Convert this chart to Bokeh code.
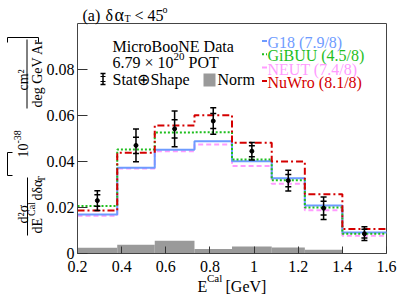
from math import pi
from bokeh.plotting import figure
from bokeh.models import Label, Arrow, FixedTicker, CustomJSTickFormatter, Range1d
from bokeh.embed import file_html
from bokeh.resources import INLINE

# ---------------- data ----------------
edges = [0.2, 0.38, 0.55, 0.73, 0.9, 1.08, 1.23, 1.4, 1.6]
data = [0.0230, 0.0470, 0.0542, 0.0576, 0.0445, 0.0317, 0.0197, 0.0086]
tot_err = [0.0043, 0.0071, 0.0078, 0.0058, 0.0038, 0.0045, 0.0049, 0.0030]
stat_err = [0.0025, 0.0035, 0.0040, 0.0033, 0.0024, 0.0027, 0.0030, 0.0019]
g18 = [0.0170, 0.0373, 0.0451, 0.0488, 0.0401, 0.0327, 0.0209, 0.0091]
gibuu = [0.0206, 0.0452, 0.0526, 0.0527, 0.0409, 0.0319, 0.0200, 0.0086]
neut = [0.0164, 0.0370, 0.0445, 0.0474, 0.0380, 0.0303, 0.0188, 0.0077]
nuwro = [0.0187, 0.0438, 0.0557, 0.0601, 0.0481, 0.0400, 0.0258, 0.0106]
norm = [0.0025, 0.0038, 0.0055, 0.0020, 0.0030, 0.0026, 0.0016, 0.0]
model_names = ["G18 (7.9/8)", "GiBUU (4.5/8)", "NEUT (7.4/8)", "NuWro (8.1/8)"]
x_ticks = [0.2, 0.4, 0.6, 0.8, 1.0, 1.2, 1.4, 1.6]
y_ticks = [0.0, 0.02, 0.04, 0.06, 0.08]
X_MIN, X_MAX, Y_MIN, Y_MAX = 0.2, 1.6, 0.0, 0.1

FONT = "Liberation Serif"
C_G18, C_GIBUU, C_NEUT, C_NUWRO = "#6E9BFF", "#1EBE1E", "#FF9BFF", "#D40000"
AX = "#444444"

W, H = 407, 295
# plot box in canvas pixels: x 77..386, y 23..253
BL, BR, BT, BB = 77.0, 386.0, 23.0, 253.0

def dx(px):
    return X_MIN + (px - BL) * (X_MAX - X_MIN) / (BR - BL)

def dy(py):
    return Y_MIN + (BB - py) * (Y_MAX - Y_MIN) / (BB - BT)

p = figure(width=W, height=H, output_backend="svg", toolbar_location=None,
           x_range=Range1d(dx(0), dx(W)), y_range=Range1d(dy(H), dy(0)),
           min_border=0, background_fill_color="white", border_fill_color="white")
p.grid.visible = False
p.outline_line_color = None

# axes at the plot box edges
xa, ya = p.xaxis[0], p.yaxis[0]
xa.fixed_location = Y_MIN
ya.fixed_location = X_MIN
xa.bounds = (X_MIN, X_MAX)
ya.bounds = (Y_MIN, Y_MAX)
for ax in (xa, ya):
    ax.axis_line_color = AX
    ax.major_tick_line_color = "#333333"
    ax.minor_tick_line_color = None
    ax.major_tick_out = 0
    ax.major_label_text_font = FONT
    ax.major_label_text_font_size = "16px"
    ax.major_label_text_color = "black"
xa.major_tick_in = 7
ya.major_tick_in = 10
xa.major_label_standoff = 7
ya.major_label_standoff = 3
xa.ticker = FixedTicker(ticks=x_ticks)
ya.ticker = FixedTicker(ticks=y_ticks)
xa.formatter = CustomJSTickFormatter(code="return String(Math.round(tick*10)/10);")
ya.formatter = CustomJSTickFormatter(code="return tick < 1e-9 ? '0' : tick.toFixed(2);")

# top and right frame lines
p.line([X_MIN, X_MAX, X_MAX], [Y_MAX, Y_MAX, Y_MIN], line_color=AX, line_width=1)

# Norm histogram
p.quad(left=edges[:-1], right=edges[1:], bottom=0, top=norm,
       fill_color="#9a9a9a", line_color=None)

# model step histograms
def stepy(v):
    return list(v) + [v[-1]]

p.step(edges, stepy(neut), mode="after", line_color=C_NEUT, line_width=2, line_dash="5 3")
p.step(edges, stepy(g18), mode="after", line_color=C_G18, line_width=2)
p.step(edges, stepy(gibuu), mode="after", line_color=C_GIBUU, line_width=2, line_dash="2 2")
p.step(edges, stepy(nuwro), mode="after", line_color=C_NUWRO, line_width=2, line_dash="7 3 2 3")

# data points
centers = [(a + b) / 2 for a, b in zip(edges[:-1], edges[1:])]
lo = [d - e for d, e in zip(data, tot_err)]
hi = [d + e for d, e in zip(data, tot_err)]
slo = [d - e for d, e in zip(data, stat_err)]
shi = [d + e for d, e in zip(data, stat_err)]
p.segment(centers, lo, centers, hi, line_color="black", line_width=1.5)
for arr in (lo, hi, slo, shi):
    p.scatter(centers, arr, marker="dash", size=6, line_color="black", line_width=1.5)
p.scatter(centers, data, marker="circle", size=4, fill_color="black", line_color="black")

# ---------------- texts ----------------
SHIFT = 2.5  # compensate renderer baseline offset

def lab(text, px, py, size="16px", color="black", angle=0.0, align="left"):
    if angle == 0.0:
        py -= SHIFT
    else:
        px -= SHIFT
    p.add_layout(Label(x=dx(px), y=dy(py), text=text, text_font=FONT,
                       text_font_size=size, text_color=color, angle=angle,
                       text_align=align, text_baseline="alphabetic"))

def line(x0, y0, x1, y1, color="black", width=1, dash="solid"):
    p.add_layout(Arrow(end=None, x_start=dx(x0), y_start=dy(y0), x_end=dx(x1), y_end=dy(y1),
                       line_color=color, line_width=width, line_dash=dash))

# title
lab("(a)", 82, 17)
lab("\u03b4", 105, 17)
lab("\u03b1", 114, 17, size="18px")
lab("T", 124, 20.5, size="10px")
lab("< 45", 134, 17)
lab("o", 162, 11, size="10px")

# left legend block
lab("MicroBooNE Data", 112, 48)
lab("6.79 \u00d7 10", 112, 64.5)
lab("20", 173, 58, size="11px")
lab("POT", 188, 64.5)
lab("Stat\u2295Shape", 112, 81)
lab("Norm", 217, 81)
line(102.5, 73, 102.5, 84, width=1.5)
line(100, 73, 105, 73, width=1.5)
line(100, 84, 105, 84, width=1.5)
line(100, 76, 105, 76, width=1.2)
line(100, 81, 105, 81, width=1.2)
p.quad(left=[dx(203)], right=[dx(215)], bottom=[dy(86)], top=[dy(73)],
       fill_color="#9a9a9a", line_color=None)

# right legend block
mcol = [C_G18, C_GIBUU, C_NEUT, C_NUWRO]
mdash = ["solid", "2 2", "5 3", "7 3 2 3"]
for i, (name, c, d) in enumerate(zip(model_names, mcol, mdash)):
    base = 44.5 + 13.3 * i
    lab(name, 267, base, color=c)
    line(261.5, base - 4, 266.5, base - 4, color=c, width=2, dash=d)

# x axis label
lab("E", 197, 288)
lab("Cal", 206.5, 280, size="11px")
lab("[GeV]", 225, 288)

# y axis label (rotated)
R = pi / 2
lab("d\u00b2\u03c3", 25, 223, size="14px", angle=R)
line(27, 177, 27, 235)
lab("dE", 39, 233, size="14px", angle=R)
lab("Cal", 33, 215.5, size="10px", angle=R)
lab("d\u03b4\u03b1", 39, 200, size="14px", angle=R)
lab("T", 43, 181.5, size="10px", angle=R)
line(12, 152, 7, 152)
line(7, 152, 7, 175)
line(7, 175, 12, 175)
lab("10", 25, 157, size="14px", angle=R)
lab("-38", 19, 143, size="10px", angle=R)
lab("cm\u00b2", 25, 90, size="14px", angle=R)
line(26.5, 39, 26.5, 108)
lab("deg GeV Ar", 39, 107, size="14px", angle=R)
line(7, 37, 38, 37)
line(7, 37, 7, 42)
line(38, 37, 38, 42)

html = file_html(p, INLINE)
open("out.html", "w").write(html)
